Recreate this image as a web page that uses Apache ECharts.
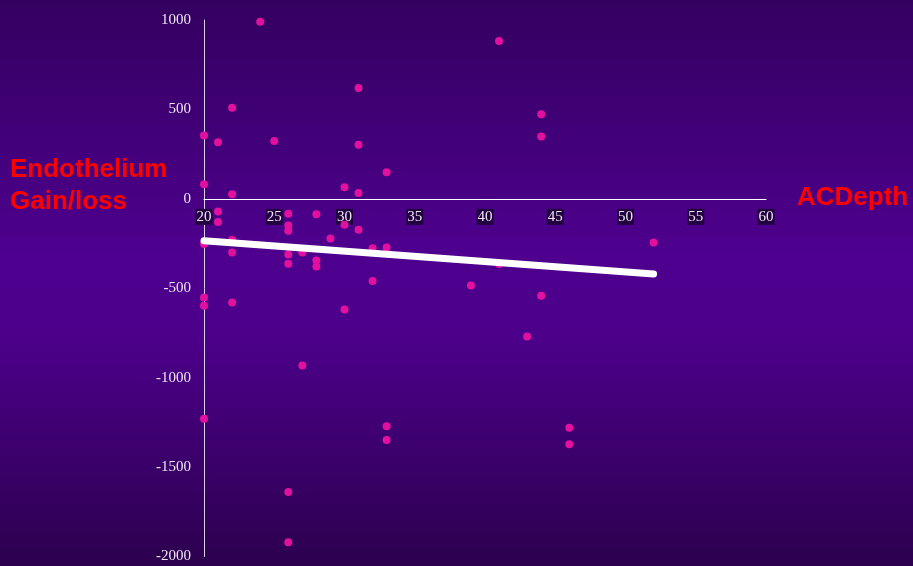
<!DOCTYPE html>
<html>
<head>
<meta charset="utf-8">
<script src="https://cdn.jsdelivr.net/npm/echarts@6/dist/echarts.min.js"></script>
<style>
html,body{margin:0;padding:0;}
#chart{width:913px;height:566px;}
</style>
</head>
<body>
<div id="chart"></div>
<script>
// Data
var acDepth = [24,31,22,20,21,25,31,33,20,30,22,31,41,44,44,
  21,21,26,28,30,26,26,31,29,20,22,32,33,22,26,27,26,28,28,32,20,20,22,30,27,
  52,41,39,44,43,20,33,33,26,26,46,46];
var gainLoss = [990,620,510,354,317,324,302,149,82,65,26,32,883,473,348,
  -71,-130,-84,-86,-145,-149,-179,-173,-222,-252,-229,-276,-272,-300,-311,-300,-363,-345,-378,-460,-552,-598,-580,-619,-932,
  -244,-365,-485,-542,-770,-1230,-1271,-1349,-1640,-1921,-1280,-1373];
var trendX = [20, 52];
var trendY = [-234, -420];

var points = acDepth.map(function(x,i){return [x, gainLoss[i]];});
var trend = trendX.map(function(x,i){return [x, trendY[i]];});

var gridTop = 20, gridBottom = 9.5, chartH = 566;
var plotH = chartH - gridTop - gridBottom;
var yMin = -2000, yMax = 1000;
// distance from bottom of plot to the zero line (for placing x axis)
var zeroOffset = plotH * (0 - yMin) / (yMax - yMin);

var chart = echarts.init(document.getElementById('chart'));
chart.setOption({
  backgroundColor: {
    type:'linear', x:0, y:0, x2:0, y2:1,
    colorStops:[
      {offset:0, color:'#340060'},
      {offset:0.45, color:'#4e008e'},
      {offset:0.6, color:'#4c008a'},
      {offset:1, color:'#2c004e'}
    ]
  },
  animation:false,
  grid:{left:204, right:147, top:gridTop, bottom:gridBottom, outerBoundsMode:'none', containLabel:false},
  xAxis:{
    type:'value', min:20, max:60, interval:5, position:'bottom', offset:-zeroOffset,
    axisLine:{onZero:false, lineStyle:{color:'#ffffff', width:1}},
    axisTick:{show:false},
    splitLine:{show:false},
    axisLabel:{
      color:'#ece8f4', fontFamily:'Liberation Serif', fontSize:15,
      backgroundColor:'#22003f', padding:[1,1,0,1], margin:10,
      formatter:function(v){return String(v);}
    }
  },
  yAxis:{
    type:'value', min:yMin, max:yMax, interval:500,
    axisLine:{show:true, onZero:false, lineStyle:{color:'#d8d0e6', width:1}},
    axisTick:{show:false},
    splitLine:{show:false},
    axisLabel:{color:'#ece8f4', fontFamily:'Liberation Serif', fontSize:15, margin:13,
      formatter:function(v){return String(v);}}
  },
  series:[
    {
      type:'scatter', data:points, symbol:'circle', symbolSize:8,
      itemStyle:{color:'#e2109e', opacity:1}, z:2
    },
    {
      type:'line', data:trend, symbol:'none', z:3,
      lineStyle:{color:'#ffffff', width:7, cap:'round'}
    }
  ],
  graphic:[
    {type:'text', x:10, y:170, style:{text:'Endothelium', font:'bold 26px "Liberation Sans", Arial, sans-serif', fill:'#ff0000', textVerticalAlign:'middle'}},
    {type:'text', x:10, y:202, style:{text:'Gain/loss', font:'bold 26px "Liberation Sans", Arial, sans-serif', fill:'#ff0000', textVerticalAlign:'middle'}},
    {type:'text', x:797, y:198, style:{text:'ACDepth', font:'bold 26px "Liberation Sans", Arial, sans-serif', fill:'#ff0000', textVerticalAlign:'middle'}}
  ]
});
</script>
</body>
</html>
